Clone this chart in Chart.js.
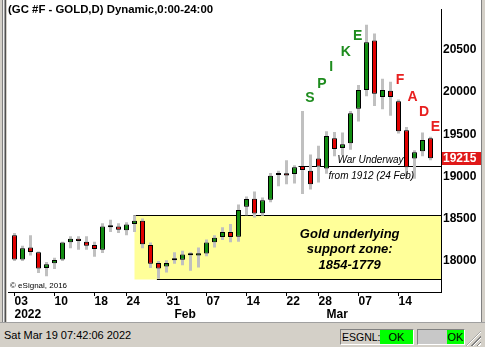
<!DOCTYPE html>
<html><head><meta charset="utf-8">
<script src="https://cdn.jsdelivr.net/npm/chart.js@4.4.1/dist/chart.umd.min.js"></script>
<style>
html,body{margin:0;padding:0;background:#fff;width:485px;height:347px;overflow:hidden;font-family:"Liberation Sans",Arial,sans-serif;}
#c{position:absolute;left:0;top:0;}
#title{position:absolute;left:8px;top:3px;font:bold 11.4px "Liberation Sans",Arial,sans-serif;line-height:12px;color:#000;white-space:nowrap;}
#copy{position:absolute;left:10px;top:281px;font:8px "Liberation Sans",Arial,sans-serif;line-height:9px;color:#000;white-space:nowrap;}
#lframe{position:absolute;left:0;top:0;width:7px;height:323px;background:linear-gradient(to right,#d4d0c8 0,#d4d0c8 2px,#808080 2px,#808080 3px,#f0f0f0 3px,#f0f0f0 4px,#a0a0a0 4px,#a0a0a0 5px,#505050 5px,#505050 6px,#d4d0c8 6px);}
#rframe{position:absolute;left:481px;top:0;width:4px;height:323px;background:linear-gradient(to right,#808080 0,#808080 1px,#d4d0c8 1px);}
#status{position:absolute;left:0;top:322px;width:485px;height:25px;background:#d4d0c8;border-top:1px solid #a0a0a0;box-sizing:border-box;}
#stime{position:absolute;left:4px;top:6px;font:11px "Liberation Sans",Arial,sans-serif;line-height:12px;color:#000;white-space:nowrap;}
.panel{position:absolute;top:6px;height:16px;box-sizing:border-box;border:1px solid;border-color:#808080 #fff #fff #808080;}
#p1{left:340px;width:74px;}
#p2{left:417px;width:48px;}
.lbl{position:absolute;left:1px;top:1px;font:10.5px "Liberation Sans",Arial,sans-serif;line-height:12px;white-space:nowrap;}
.ok{position:absolute;top:0;height:14px;background:#00ff00;font:11px "Liberation Sans",Arial,sans-serif;line-height:14px;text-align:center;color:#000;}
#p1 .ok{left:39px;width:33px;}
#p2 .gr{position:absolute;left:0;top:0;width:29px;height:14px;background:#c8c8c8;}
#p2 .ok{left:29px;width:17px;}
#grip{position:absolute;left:466px;top:8px;width:15px;height:15px;background:repeating-linear-gradient(135deg,transparent 0,transparent 2px,#808080 2px,#808080 3px,#fff 3px,#fff 4px);clip-path:polygon(100% 0,100% 100%,0 100%);}
</style></head>
<body>
<canvas id="c" width="485" height="347"></canvas>
<div id="lframe"></div><div id="rframe"></div>
<div id="title">(GC #F - GOLD,D) Dynamic,0:00-24:00</div>
<div id="copy">© eSignal, 2016</div>
<div id="status">
  <span id="stime">Sat Mar 19 07:42:06 2022</span>
  <div class="panel" id="p1"><span class="lbl">ESGNL:</span><span class="ok">OK</span></div>
  <div class="panel" id="p2"><span class="gr"></span><span class="ok">OK</span></div>
  <div id="grip"></div>
</div>
<script>
// ---- data ----
const dates = [
 "2022-01-03","2022-01-04","2022-01-05","2022-01-06","2022-01-07","2022-01-10","2022-01-11","2022-01-12","2022-01-13","2022-01-14",
 "2022-01-18","2022-01-19","2022-01-20","2022-01-21","2022-01-24","2022-01-25","2022-01-26","2022-01-27","2022-01-28","2022-01-31",
 "2022-02-01","2022-02-02","2022-02-03","2022-02-04","2022-02-07","2022-02-08","2022-02-09","2022-02-10","2022-02-11","2022-02-14",
 "2022-02-15","2022-02-16","2022-02-17","2022-02-18","2022-02-22","2022-02-23","2022-02-24","2022-02-25","2022-02-28",
 "2022-03-01","2022-03-02","2022-03-03","2022-03-04","2022-03-07","2022-03-08","2022-03-09","2022-03-10","2022-03-11",
 "2022-03-14","2022-03-15","2022-03-16","2022-03-17","2022-03-18"];
const opens  = [18305,18018,18159,18102,17915,17972,18018,18220,18262,18228,18190,18133,18400,18408,18362,18438,18477,18190,17976,17933,
                18007,18014,18067,18064,18087,18220,18282,18343,18285,18641,18736,18564,18725,19019,19039,19028,19123,19069,19214,
                19096,19452,19337,19395,19803,20025,20610,19941,20014,19891,19547,19214,19298,19452];
const highs  = [18331,18179,18305,18113,17987,18037,18228,18293,18293,18293,18228,18446,18488,18446,18457,18541,18503,18217,17999,18007,
                18102,18121,18102,18159,18254,18305,18400,18438,18668,18764,18821,18752,19042,19069,19192,19134,19776,19260,19364,
                19536,19528,19521,19776,20083,20797,20694,20158,20121,19911,19585,19310,19521,19470];
const lows   = [17999,17999,18064,17858,17819,17903,17999,18151,18133,18133,18048,18094,18343,18331,18305,18343,18151,17915,17789,17864,
                17968,17949,17884,17922,18056,18159,18248,18220,18228,18541,18515,18534,18695,18885,18908,18916,18794,18847,18928,
                19031,19241,19252,19318,19650,19949,19834,19796,19719,19509,18993,18974,19241,19192];
const closes = [18018,18151,18105,17910,17961,18010,18217,18262,18236,18179,18140,18408,18400,18369,18431,18477,18197,17968,17910,17976,
                18007,18075,18067,18090,18217,18274,18343,18282,18603,18733,18561,18718,19008,19019,19011,19108,19077,18908,19119,
                19478,19326,19383,19750,20025,20591,19980,20025,19941,19536,19108,19287,19432,19215];
const dayTickIdx = [0,5,10,14,19,24,29,34,38,43,48];
const monthTickIdx = [0,20,39];
const monthTickLabels = ["2022","Feb","Mar"];
const yTicks = [18000,18500,19000,19500,20000,20500];
const yMin = 17632, yMax = 20981;
const lastPrice = 19215;
// support zone (drawing)
const zoneTop = 18540, zoneBottom = 17790, zoneStartIdx = 15, zoneBottomStartIdx = 17.8;
const zoneText = ["Gold underlying","support zone:","1854-1779"];
const zoneTextIdx = 41.9;
const zoneTextY = [18268,18090,17910];
// war line
const warLevel = 19120, warStartIdx = 35.5;
const warText = ["War Underway","from 1912 (24 Feb)"];
const warTextIdx = [44.5,44.6];
const warTextY = [19157,18974];
// letters
const spikeLetters = ["S","P","I","K","E"];
const spikeIdx = [36.94,38.44,39.6,41.4,42.9];
const spikeY = [19926,20098,20293,20476,20660];
const fadeLetters = ["F","A","D","E"];
const fadeIdx = [48.2,49.75,51.2,52.6];
const fadeY = [20138,19943,19765,19582];

const GREEN = '#118c11', RED = '#e00000';
const bodyColors = opens.map((o,i)=> closes[i]>o ? GREEN : (closes[i]<o ? RED : '#000'));

Chart.defaults.font.family = '"Liberation Sans", Arial, sans-serif';
Chart.defaults.color = '#000';

const overlay = {
  id:'overlay',
  beforeDatasetsDraw(chart){
    const {ctx, chartArea:a, scales:{x,y}} = chart;
    ctx.save();
    const zx = x.getPixelForValue(zoneStartIdx);
    const yt = Math.round(y.getPixelForValue(zoneTop))+0.5;
    const yb = Math.round(y.getPixelForValue(zoneBottom))+0.5;
    ctx.fillStyle = '#ffff99';
    ctx.fillRect(zx, yt, a.right-zx, yb-yt);
    ctx.strokeStyle = '#000'; ctx.lineWidth = 1;
    ctx.beginPath();
    ctx.moveTo(zx-1, yt); ctx.lineTo(a.right, yt);
    const zbx = x.getPixelForValue(zoneBottomStartIdx);
    ctx.moveTo(zbx, yb); ctx.lineTo(a.right, yb);
    const wy = Math.round(y.getPixelForValue(warLevel))+0.5;
    ctx.moveTo(x.getPixelForValue(warStartIdx), wy); ctx.lineTo(a.right, wy);
    ctx.stroke();
    ctx.restore();
  },
  afterDatasetsDraw(chart){
    const {ctx, scales:{x,y}} = chart;
    ctx.save();
    ctx.textAlign = 'center';
    ctx.textBaseline = 'alphabetic';
    ctx.fillStyle = '#000';
    ctx.font = 'italic bold 13px "Liberation Sans", Arial, sans-serif';
    zoneText.forEach((t,i)=> ctx.fillText(t, x.getPixelForValue(zoneTextIdx), y.getPixelForValue(zoneTextY[i])));
    ctx.font = 'italic 10px "Liberation Sans", Arial, sans-serif';
    warText.forEach((t,i)=> ctx.fillText(t, x.getPixelForValue(warTextIdx[i]), y.getPixelForValue(warTextY[i])));
    ctx.textBaseline = 'middle';
    ctx.font = 'bold 14px "Liberation Sans", Arial, sans-serif';
    ctx.fillStyle = '#1e8c1e';
    spikeLetters.forEach((t,i)=> ctx.fillText(t, x.getPixelForValue(spikeIdx[i]), y.getPixelForValue(spikeY[i])));
    ctx.fillStyle = '#e82020';
    fadeLetters.forEach((t,i)=> ctx.fillText(t, x.getPixelForValue(fadeIdx[i]), y.getPixelForValue(fadeY[i])));
    ctx.restore();
  },
  afterDraw(chart){
    const {ctx, chartArea:a, scales:{y}} = chart;
    ctx.save();
    const py = y.getPixelForValue(lastPrice);
    ctx.fillStyle = '#e01818';
    ctx.fillRect(a.right+1, Math.round(py)-6, 39, 13);
    ctx.fillStyle = '#fff';
    ctx.font = 'bold 12px "Liberation Sans", Arial, sans-serif';
    ctx.textAlign = 'left'; ctx.textBaseline = 'middle';
    ctx.fillText(String(lastPrice), a.right+2, py+0.5);
    ctx.restore();
  }
};

new Chart(document.getElementById('c'), {
  type:'bar',
  data:{
    datasets:[
      { label:'body', order:0, grouped:false,
        data: dates.map((d,i)=>({x:i, y:[Math.min(opens[i],closes[i]), Math.max(opens[i],closes[i])]})),
        backgroundColor: bodyColors, borderColor:'#000', borderWidth:1, borderSkipped:false,
        barThickness:5, minBarLength:2, inflateAmount:0 },
      { label:'range', order:1, grouped:false,
        data: dates.map((d,i)=>({x:i, y:[lows[i], highs[i]]})),
        backgroundColor:'#c0c0c0', borderWidth:0, barThickness:3, inflateAmount:0 }
    ]
  },
  options:{
    responsive:false, animation:false, events:[],
    layout:{padding:{left:8,right:4,top:0,bottom:24}},
    plugins:{legend:{display:false}, tooltip:{enabled:false}},
    scales:{
      x:{ type:'linear', position:'bottom', weight:0, offset:false, min:-0.8125, max:53.3125,
          afterBuildTicks(s){ s.ticks = dayTickIdx.map(v=>({value:v})); },
          afterFit(s){ s.height = 15; },
          ticks:{ callback:(v)=> dates[v] ? dates[v].slice(8) : '', align:'start', autoSkip:false, maxRotation:0,
                  padding:1, color:'#000', font:{size:12, weight:'bold', lineHeight:0.84} },
          grid:{ display:true, offset:false, drawOnChartArea:false, drawTicks:true, tickLength:4, color:'#000' },
          border:{ display:true, color:'#000' } },
      x2:{ type:'linear', position:'bottom', weight:1, offset:false, min:-0.8125, max:53.3125,
          afterBuildTicks(s){ s.ticks = monthTickIdx.map(v=>({value:v})); },
          afterFit(s){ s.height = 16; },
          ticks:{ callback:(v)=> monthTickLabels[monthTickIdx.indexOf(v)], align:'start', autoSkip:false, maxRotation:0,
                  padding:3, color:'#000', font:{size:12, weight:'bold', lineHeight:0.84} },
          grid:{ display:false, offset:false, drawTicks:false },
          border:{ display:false } },
      y:{ type:'linear', position:'right', min:yMin, max:yMax,
          afterBuildTicks(s){ s.ticks = yTicks.map(v=>({value:v})); },
          afterFit(s){ s.width = 40; },
          ticks:{ padding:2, color:'#000', font:{size:12, weight:'bold'}, callback:(v)=>String(v) },
          grid:{ display:false, drawTicks:false },
          border:{ display:true, color:'#000' } }
    }
  },
  plugins:[overlay]
});
</script>
</body></html>
